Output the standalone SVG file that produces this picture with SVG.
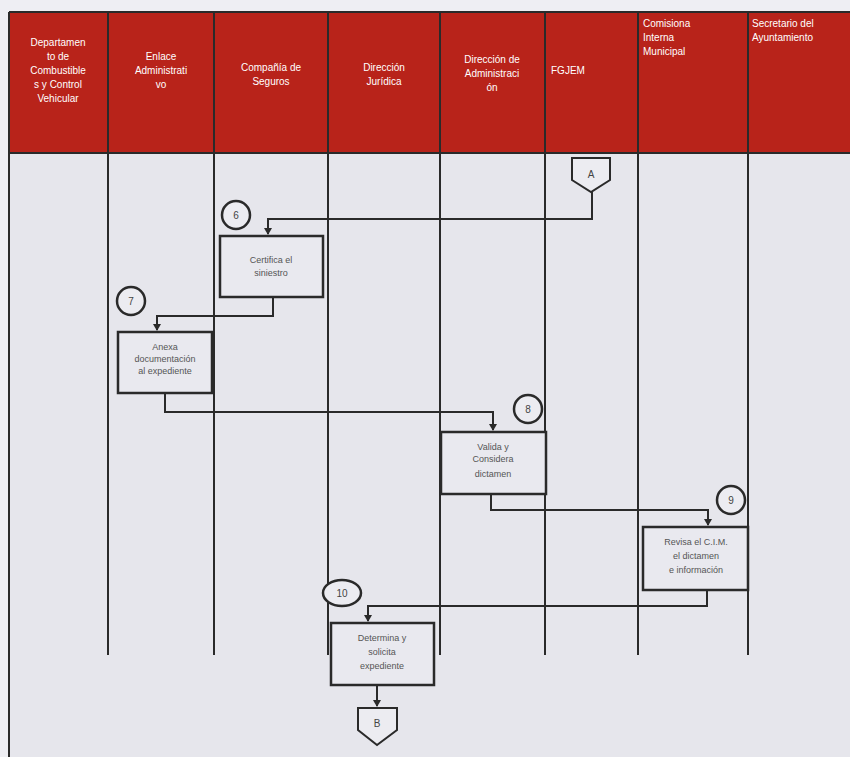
<svg xmlns="http://www.w3.org/2000/svg" width="850" height="757" viewBox="0 0 850 757">
<style>
.hdr{font-family:"Liberation Sans",Arial,sans-serif;font-size:10px;fill:#fff;text-anchor:middle}
.hdrl{font-family:"Liberation Sans",Arial,sans-serif;font-size:10px;fill:#fff;text-anchor:start}
.lane{stroke:#2a2a2a;stroke-width:2;fill:none}
.box{fill:#e9e9ef;stroke:#2a2a2a;stroke-width:2.5}
.t{font-family:"Liberation Sans",Arial,sans-serif;font-size:9px;fill:#555;text-anchor:middle}
.num{font-family:"Liberation Sans",Arial,sans-serif;font-size:10px;fill:#444;text-anchor:middle}
.conn{stroke:#2a2a2a;stroke-width:2;fill:none;marker-end:url(#ah)}
.circ{fill:#ececf1;stroke:#2a2a2a;stroke-width:2.5}
</style>
<defs>
<marker id="ah" markerWidth="8" markerHeight="8" refX="6" refY="4" orient="auto" markerUnits="userSpaceOnUse">
<path d="M0,0 L7,4 L0,8 Z" fill="#2a2a2a"/>
</marker>
</defs>
<rect width="850" height="757" fill="#eeeef3"/>
<rect x="9" y="153" width="841" height="604" fill="#e6e6ec"/>
<g id="header">
<rect x="9" y="12" width="841" height="141" fill="#b8231a"/>
<line x1="9" y1="12" x2="850" y2="12" stroke="#2a2a2a" stroke-width="2"/>
<line x1="9" y1="153" x2="850" y2="153" stroke="#2a2a2a" stroke-width="2"/>
<text class="hdr" x="58" y="46">Departamen</text>
<text class="hdr" x="58" y="60">to de</text>
<text class="hdr" x="58" y="74">Combustible</text>
<text class="hdr" x="58" y="88">s y Control</text>
<text class="hdr" x="58" y="102">Vehicular</text>
<text class="hdr" x="161" y="60">Enlace</text>
<text class="hdr" x="161" y="74">Administrati</text>
<text class="hdr" x="161" y="88">vo</text>
<text class="hdr" x="271" y="71">Compañía de</text>
<text class="hdr" x="271" y="85">Seguros</text>
<text class="hdr" x="384" y="71">Dirección</text>
<text class="hdr" x="384" y="85">Jurídica</text>
<text class="hdr" x="492" y="63">Dirección de</text>
<text class="hdr" x="492" y="77">Administraci</text>
<text class="hdr" x="492" y="91">ón</text>
<text class="hdrl" x="551" y="74">FGJEM</text>
<text class="hdrl" x="643" y="27">Comisiona</text>
<text class="hdrl" x="643" y="41">Interna</text>
<text class="hdrl" x="643" y="55">Municipal</text>
<text class="hdrl" x="752" y="27">Secretario del</text>
<text class="hdrl" x="752" y="41">Ayuntamiento</text>
</g>
<g id="lanes">
<line class="lane" x1="9" y1="12" x2="9" y2="757"/>
<line class="lane" x1="108" y1="12" x2="108" y2="655"/>
<line class="lane" x1="214" y1="12" x2="214" y2="655"/>
<line class="lane" x1="328" y1="12" x2="328" y2="655"/>
<line class="lane" x1="440" y1="12" x2="440" y2="655"/>
<line class="lane" x1="545" y1="12" x2="545" y2="655"/>
<line class="lane" x1="638" y1="12" x2="638" y2="655"/>
<line class="lane" x1="748" y1="12" x2="748" y2="655"/>
</g>
<g id="connectors">
<path class="conn" d="M592,192 V219 H268 V234"/>
<path class="conn" d="M273,297 V316 H157 V330"/>
<path class="conn" d="M165,393 V412 H493 V430"/>
<path class="conn" d="M491,494 V510 H708 V525"/>
<path class="conn" d="M707,590 V606 H368 V621"/>
<path class="conn" d="M377,685 V706"/>
</g>
<g id="nodeA">
<path d="M572,158 H610 V180 L591,192 L572,180 Z" fill="#ececf1" stroke="#2a2a2a" stroke-width="2"/>
<text class="num" x="591" y="178">A</text>
</g>
<g id="c6"><circle class="circ" cx="236" cy="215" r="14"/><text class="num" x="236" y="219">6</text></g>
<g id="n1">
<rect class="box" x="220" y="236" width="103" height="61"/>
<text class="t" x="271" y="263">Certifica el</text>
<text class="t" x="271" y="276">siniestro</text>
</g>
<g id="c7"><circle class="circ" cx="131" cy="301" r="14"/><text class="num" x="131" y="305">7</text></g>
<g id="n2">
<rect class="box" x="118" y="332" width="94" height="61"/>
<text class="t" x="165" y="350">Anexa</text>
<text class="t" x="165" y="362">documentación</text>
<text class="t" x="165" y="374">al expediente</text>
</g>
<g id="c8"><circle class="circ" cx="528" cy="409" r="14"/><text class="num" x="528" y="413">8</text></g>
<g id="n3">
<rect class="box" x="441" y="432" width="105" height="62"/>
<text class="t" x="493" y="450">Valida y</text>
<text class="t" x="493" y="462">Considera</text>
<text class="t" x="493" y="477">dictamen</text>
</g>
<g id="c9"><circle class="circ" cx="731" cy="500" r="14"/><text class="num" x="731" y="504">9</text></g>
<g id="n4">
<rect class="box" x="643" y="527" width="105" height="63"/>
<text class="t" x="696" y="545">Revisa el C.I.M.</text>
<text class="t" x="696" y="559">el dictamen</text>
<text class="t" x="696" y="573">e información</text>
</g>
<g id="c10"><ellipse class="circ" cx="342" cy="593" rx="19" ry="13"/><text class="num" x="342" y="597">10</text></g>
<g id="n5">
<rect class="box" x="331" y="623" width="103" height="62"/>
<text class="t" x="382" y="641">Determina y</text>
<text class="t" x="382" y="655">solicita</text>
<text class="t" x="382" y="669">expediente</text>
</g>
<g id="nodeB">
<path d="M358,708 H397 V730 L377,745 L358,730 Z" fill="#ececf1" stroke="#2a2a2a" stroke-width="2"/>
<text class="num" x="377" y="727">B</text>
</g>
</svg>
